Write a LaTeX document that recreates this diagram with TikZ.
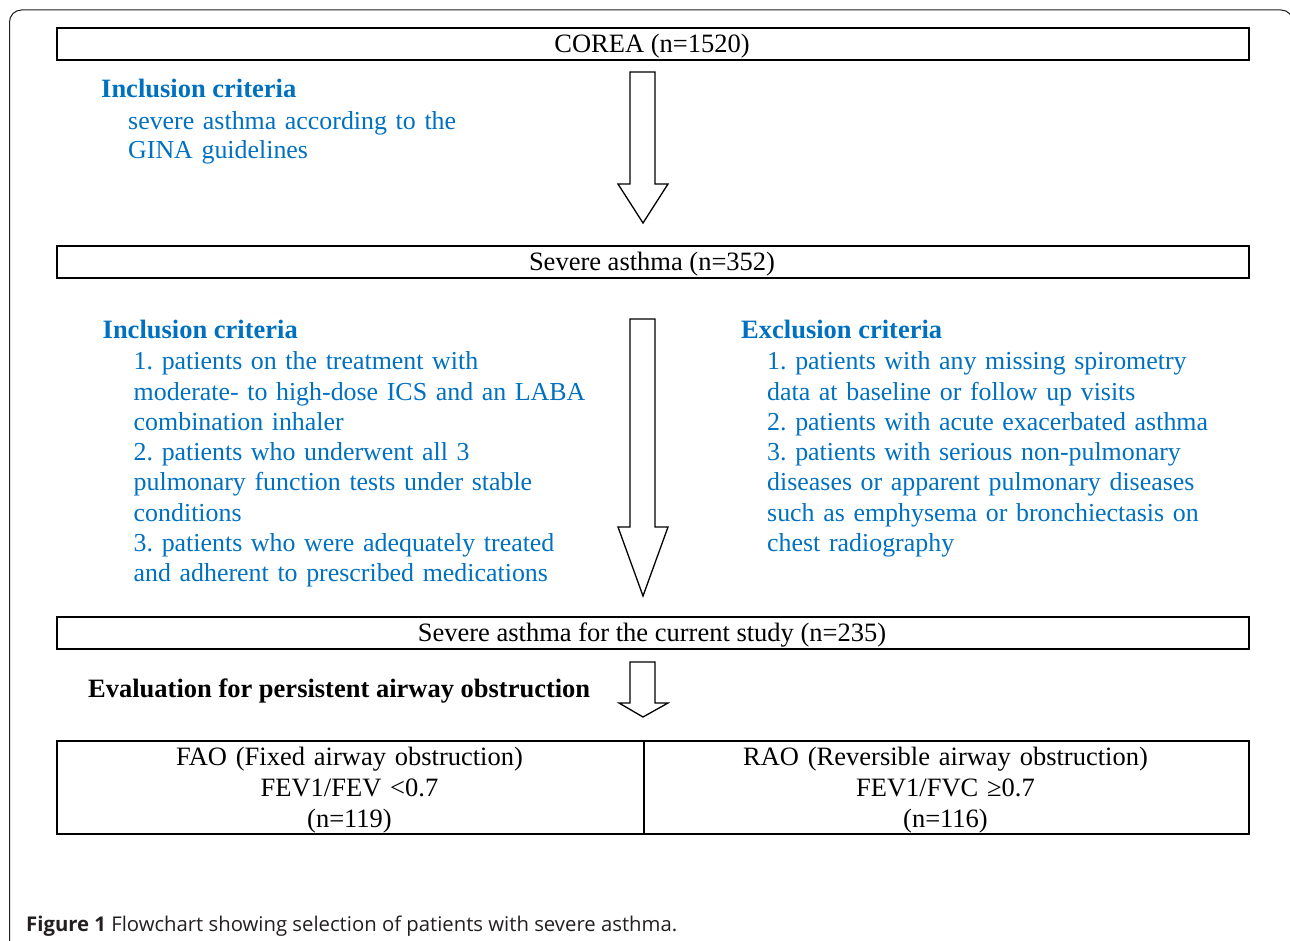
\documentclass[tikz,border=0pt]{standalone}
\usepackage{fontspec}
\setmainfont{Liberation Serif}
\newfontfamily\capfont{Open Sans}
\definecolor{wblue}{RGB}{0,112,192}
\definecolor{capgray}{RGB}{35,31,32}
\frenchspacing
\begin{document}
\begin{tikzpicture}[x=1pt,y=-1pt,
  box/.style={draw, line width=2pt, inner sep=0pt, anchor=north west},
  txt/.style={inner sep=0pt, font=\fontsize{26.5}{30.4}\selectfont},
  bluetxt/.style={txt, text=wblue},
  head/.style={txt, text=wblue, font=\fontsize{26.5}{30.4}\selectfont\bfseries, anchor=base west},
  listtxt/.style={bluetxt, anchor=base west, text width=560, align=left},
  barrow/.style={draw, line width=1.3pt, fill=white, line join=miter},
  frame/.style={draw=capgray, line width=1pt, rounded corners=12}
]
\useasboundingbox (0,0) rectangle (1290,941);

% outer frame
\draw[frame] (9.5,990) -- (9.5,10) -- (1293,10) -- (1293,990);

% boxes
\node[box, minimum width=1192, minimum height=32] (b1) at (56,27) {};
\node[txt, anchor=base] (t1) at (652,52.5) {COREA (n=1520)};

\node[box, minimum width=1192, minimum height=32] (b2) at (56,245) {};
\node[txt, anchor=base] (t2) at (652,270.5) {Severe asthma (n=352)};

\node[box, minimum width=1192, minimum height=32] (b3) at (56,616) {};
\node[txt, anchor=base] (t3) at (652,641.5) {Severe asthma for the current study (n=235)};

\node[box, minimum width=587, minimum height=93] (fao) at (56,740) {};
\node[box, minimum width=605, minimum height=93] (rao) at (643,740) {};
\node[txt, anchor=base, text width=580, align=center,
      font=\fontsize{26.5}{31}\selectfont] (faot) at (349.5,765)
  {FAO (Fixed airway obstruction)\\FEV1/FEV <0.7\\(n=119)};
\node[txt, anchor=base, text width=600, align=center,
      font=\fontsize{26.5}{31}\selectfont] (raot) at (945.5,765)
  {RAO (Reversible airway obstruction)\\FEV1/FVC ≥0.7\\(n=116)};

% block arrows
\draw[barrow] (630,72) -- (655,72) -- (655,184) -- (668,184) -- (643,223)
  -- (618,184) -- (630,184) -- cycle;
\draw[barrow] (630,319) -- (655,319) -- (655,527) -- (668,527) -- (643,596)
  -- (618,527) -- (630,527) -- cycle;
\draw[barrow] (630,662) -- (655,662) -- (655,703) -- (668,703) -- (643,717)
  -- (619,703) -- (630,703) -- cycle;

% criteria texts
\node[head] (inc1h) at (101,98) {Inclusion criteria};
\node[listtxt, font=\fontsize{25.9}{29.5}\selectfont] (inc1) at (128,129.5)
  {severe asthma according to the\\GINA guidelines};

\node[head] (inc2h) at (102.5,338) {Inclusion criteria};
\node[listtxt, font=\fontsize{25.9}{30.3}\selectfont] (inc2) at (133.5,369.7)
  {1. patients on the treatment with\\
   moderate- to high-dose ICS and an LABA\\
   combination inhaler\\
   2. patients who underwent all 3\\
   pulmonary function tests under stable\\
   conditions\\
   3. patients who were adequately treated\\
   and adherent to prescribed medications};

\node[head] (exch) at (741,338.5) {Exclusion criteria};
\node[listtxt, text width=520, font=\fontsize{25.9}{30.3}\selectfont] (exc) at (767,369.7)
  {1. patients with any missing spirometry\\
   data at baseline or follow up visits\\
   2. patients with acute exacerbated asthma\\
   3. patients with serious non-pulmonary\\
   diseases or apparent pulmonary diseases\\
   such as emphysema or bronchiectasis on\\
   chest radiography};

\node[txt, anchor=base west, font=\fontsize{26.5}{30.4}\selectfont\bfseries] (evalt) at (88,697)
  {Evaluation for persistent airway obstruction};

% caption
\node[inner sep=0pt, anchor=base west, text=capgray,
      font=\capfont\fontsize{20.3}{23}\selectfont] (cap) at (26,931)
  {\textbf{Figure 1} Flowchart showing selection of patients with severe asthma.};
\end{tikzpicture}
\end{document}
